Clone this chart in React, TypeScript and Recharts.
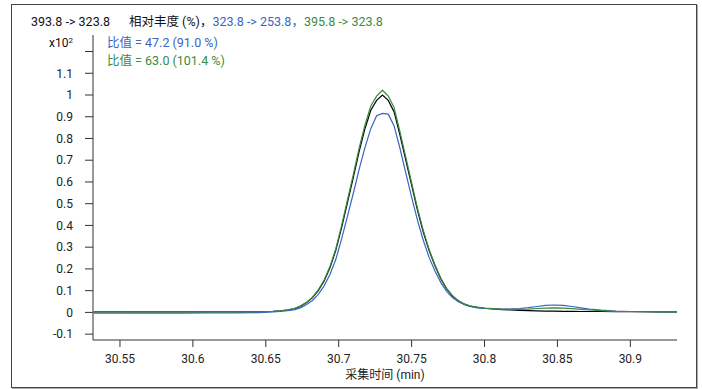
import React from "react"
import { LineChart, Line, XAxis, YAxis } from "recharts"

// acquisition time (min)
const times = [
  30.532, 30.55, 30.57, 30.59, 30.61, 30.63, 30.645, 30.655, 30.66, 30.665,
  30.67, 30.674, 30.678, 30.682, 30.686, 30.69, 30.694, 30.698, 30.702, 30.706,
  30.71, 30.714, 30.718, 30.722, 30.726, 30.73, 30.734, 30.738, 30.742, 30.746,
  30.75, 30.754, 30.758, 30.762, 30.766, 30.77, 30.774, 30.778, 30.782, 30.786,
  30.79, 30.795, 30.8, 30.806, 30.812, 30.818, 30.824, 30.83, 30.836, 30.842,
  30.848, 30.854, 30.86, 30.866, 30.872, 30.88, 30.89, 30.9, 30.91, 30.92, 30.932,
]

// 393.8 -> 323.8 (quantifier), abundance x10^2
const quant = [
  0.002, 0.002, 0.002, 0.002, 0.002, 0.002, 0.003, 0.005, 0.007, 0.011,
  0.018, 0.029, 0.045, 0.068, 0.1, 0.145, 0.205, 0.285, 0.39, 0.505,
  0.62, 0.74, 0.845, 0.93, 0.975, 1.0, 0.975, 0.922, 0.815, 0.7,
  0.585, 0.47, 0.37, 0.285, 0.215, 0.155, 0.108, 0.075, 0.053, 0.038,
  0.029, 0.023, 0.019, 0.016, 0.013, 0.011, 0.009, 0.008, 0.007, 0.006,
  0.006, 0.005, 0.005, 0.004, 0.004, 0.004, 0.003, 0.003, 0.003, 0.002, 0.002,
]

// 323.8 -> 253.8 (qualifier)
const qual1 = [
  -0.004, -0.004, -0.003, -0.003, -0.002, -0.002, -0.001, 0.002, 0.004, 0.008,
  0.013, 0.022, 0.036, 0.055, 0.083, 0.122, 0.174, 0.243, 0.338, 0.442,
  0.547, 0.658, 0.758, 0.845, 0.905, 0.915, 0.912, 0.858, 0.755, 0.642,
  0.53, 0.424, 0.332, 0.253, 0.19, 0.138, 0.097, 0.068, 0.049, 0.036,
  0.027, 0.021, 0.018, 0.016, 0.015, 0.016, 0.018, 0.022, 0.027, 0.032,
  0.034, 0.032, 0.027, 0.021, 0.015, 0.01, 0.006, 0.004, 0.003, 0.002, 0.002,
]

// 395.8 -> 323.8 (qualifier)
const qual2 = [
  0.002, 0.002, 0.002, 0.002, 0.002, 0.002, 0.003, 0.005, 0.007, 0.012,
  0.019, 0.03, 0.047, 0.07, 0.103, 0.149, 0.211, 0.292, 0.4, 0.517,
  0.634, 0.756, 0.862, 0.95, 0.995, 1.022, 0.995, 0.941, 0.832, 0.714,
  0.597, 0.48, 0.377, 0.29, 0.219, 0.158, 0.11, 0.077, 0.054, 0.039,
  0.03, 0.024, 0.02, 0.017, 0.015, 0.014, 0.014, 0.015, 0.018, 0.02,
  0.021, 0.02, 0.017, 0.014, 0.011, 0.008, 0.005, 0.004, 0.003, 0.002, 0.002,
]

const xTicks = [30.55, 30.6, 30.65, 30.7, 30.75, 30.8, 30.85, 30.9]
const yTicks = [-0.1, 0, 0.1, 0.2, 0.3, 0.4, 0.5, 0.6, 0.7, 0.8, 0.9, 1, 1.1, 1.2]

const BLUE = "#3a64c2"
const GREEN = "#3b8a42"
const FONT = "Roboto, 'Noto Sans CJK SC', sans-serif"

const rows = times.map((t, i) => ({ t, quant: quant[i], qual1: qual1[i], qual2: qual2[i] }))

// 1.2 gets a tick mark but no label (the x10^2 multiplier sits there)
const fmtY = (v: number) => (v > 1.15 ? "" : String(Number(v.toFixed(1))))

const txt: React.CSSProperties = { position: "absolute", fontSize: 12.5, whiteSpace: "nowrap", lineHeight: "14px" }

export default function App() {
  return (
    <div style={{ position: "absolute", left: 0, top: 0, width: 702, height: 389, background: "#fff", fontFamily: FONT }}>
      <div
        style={{
          position: "absolute",
          left: 11,
          top: 4,
          width: 684,
          height: 382,
          border: "1px solid #444",
          boxShadow: "1px 1px 0 #aaa",
        }}
      />
      <LineChart
        width={702}
        height={389}
        data={rows}
        margin={{ top: 35, right: 25, bottom: 0, left: 0 }}
        style={{ position: "absolute", left: 0, top: 0 }}
      >
        <XAxis
          dataKey="t"
          type="number"
          domain={[30.5315, 30.932]}
          allowDataOverflow
          ticks={xTicks}
          tickFormatter={(v: number) => String(v)}
          height={49}
          stroke="#333"
          tickSize={7}
          tickMargin={7}
          tick={{ fill: "#222", fontSize: 12, fontFamily: FONT }}
          label={{ value: "采集时间 (min)", position: "insideBottom", offset: 10, fill: "#222", fontSize: 12, fontFamily: FONT }}
        />
        <YAxis
          type="number"
          domain={[-0.127, 1.276]}
          allowDataOverflow
          ticks={yTicks}
          tickFormatter={fmtY}
          width={93}
          stroke="#333"
          tickSize={8}
          tickMargin={12}
          tick={{ fill: "#222", fontSize: 12, fontFamily: FONT }}
        />
        <Line type="linear" dataKey="quant" stroke="#000" strokeWidth={1.2} dot={false} isAnimationActive={false} />
        <Line type="linear" dataKey="qual1" stroke={BLUE} strokeWidth={1.2} dot={false} isAnimationActive={false} />
        <Line type="linear" dataKey="qual2" stroke={GREEN} strokeWidth={1.2} dot={false} isAnimationActive={false} />
      </LineChart>

      <div style={{ ...txt, left: 31, top: 15, color: "#111" }}>
        393.8 -&gt; 323.8
        <span style={{ marginLeft: 19 }}>相对丰度 (%)，</span>
        <span style={{ color: BLUE }}>323.8 -&gt; 253.8，</span>
        <span style={{ color: GREEN }}>395.8 -&gt; 323.8</span>
      </div>
      <div style={{ ...txt, fontSize: 12, left: 49, top: 36, color: "#111" }}>
        x10<sup style={{ fontSize: 8, verticalAlign: "top", lineHeight: "10px" }}>2</sup>
      </div>
      <div style={{ ...txt, left: 107, top: 36, color: BLUE }}>比值 = 47.2 (91.0 %)</div>
      <div style={{ ...txt, left: 107, top: 54, color: GREEN }}>比值 = 63.0 (101.4 %)</div>
    </div>
  )
}
